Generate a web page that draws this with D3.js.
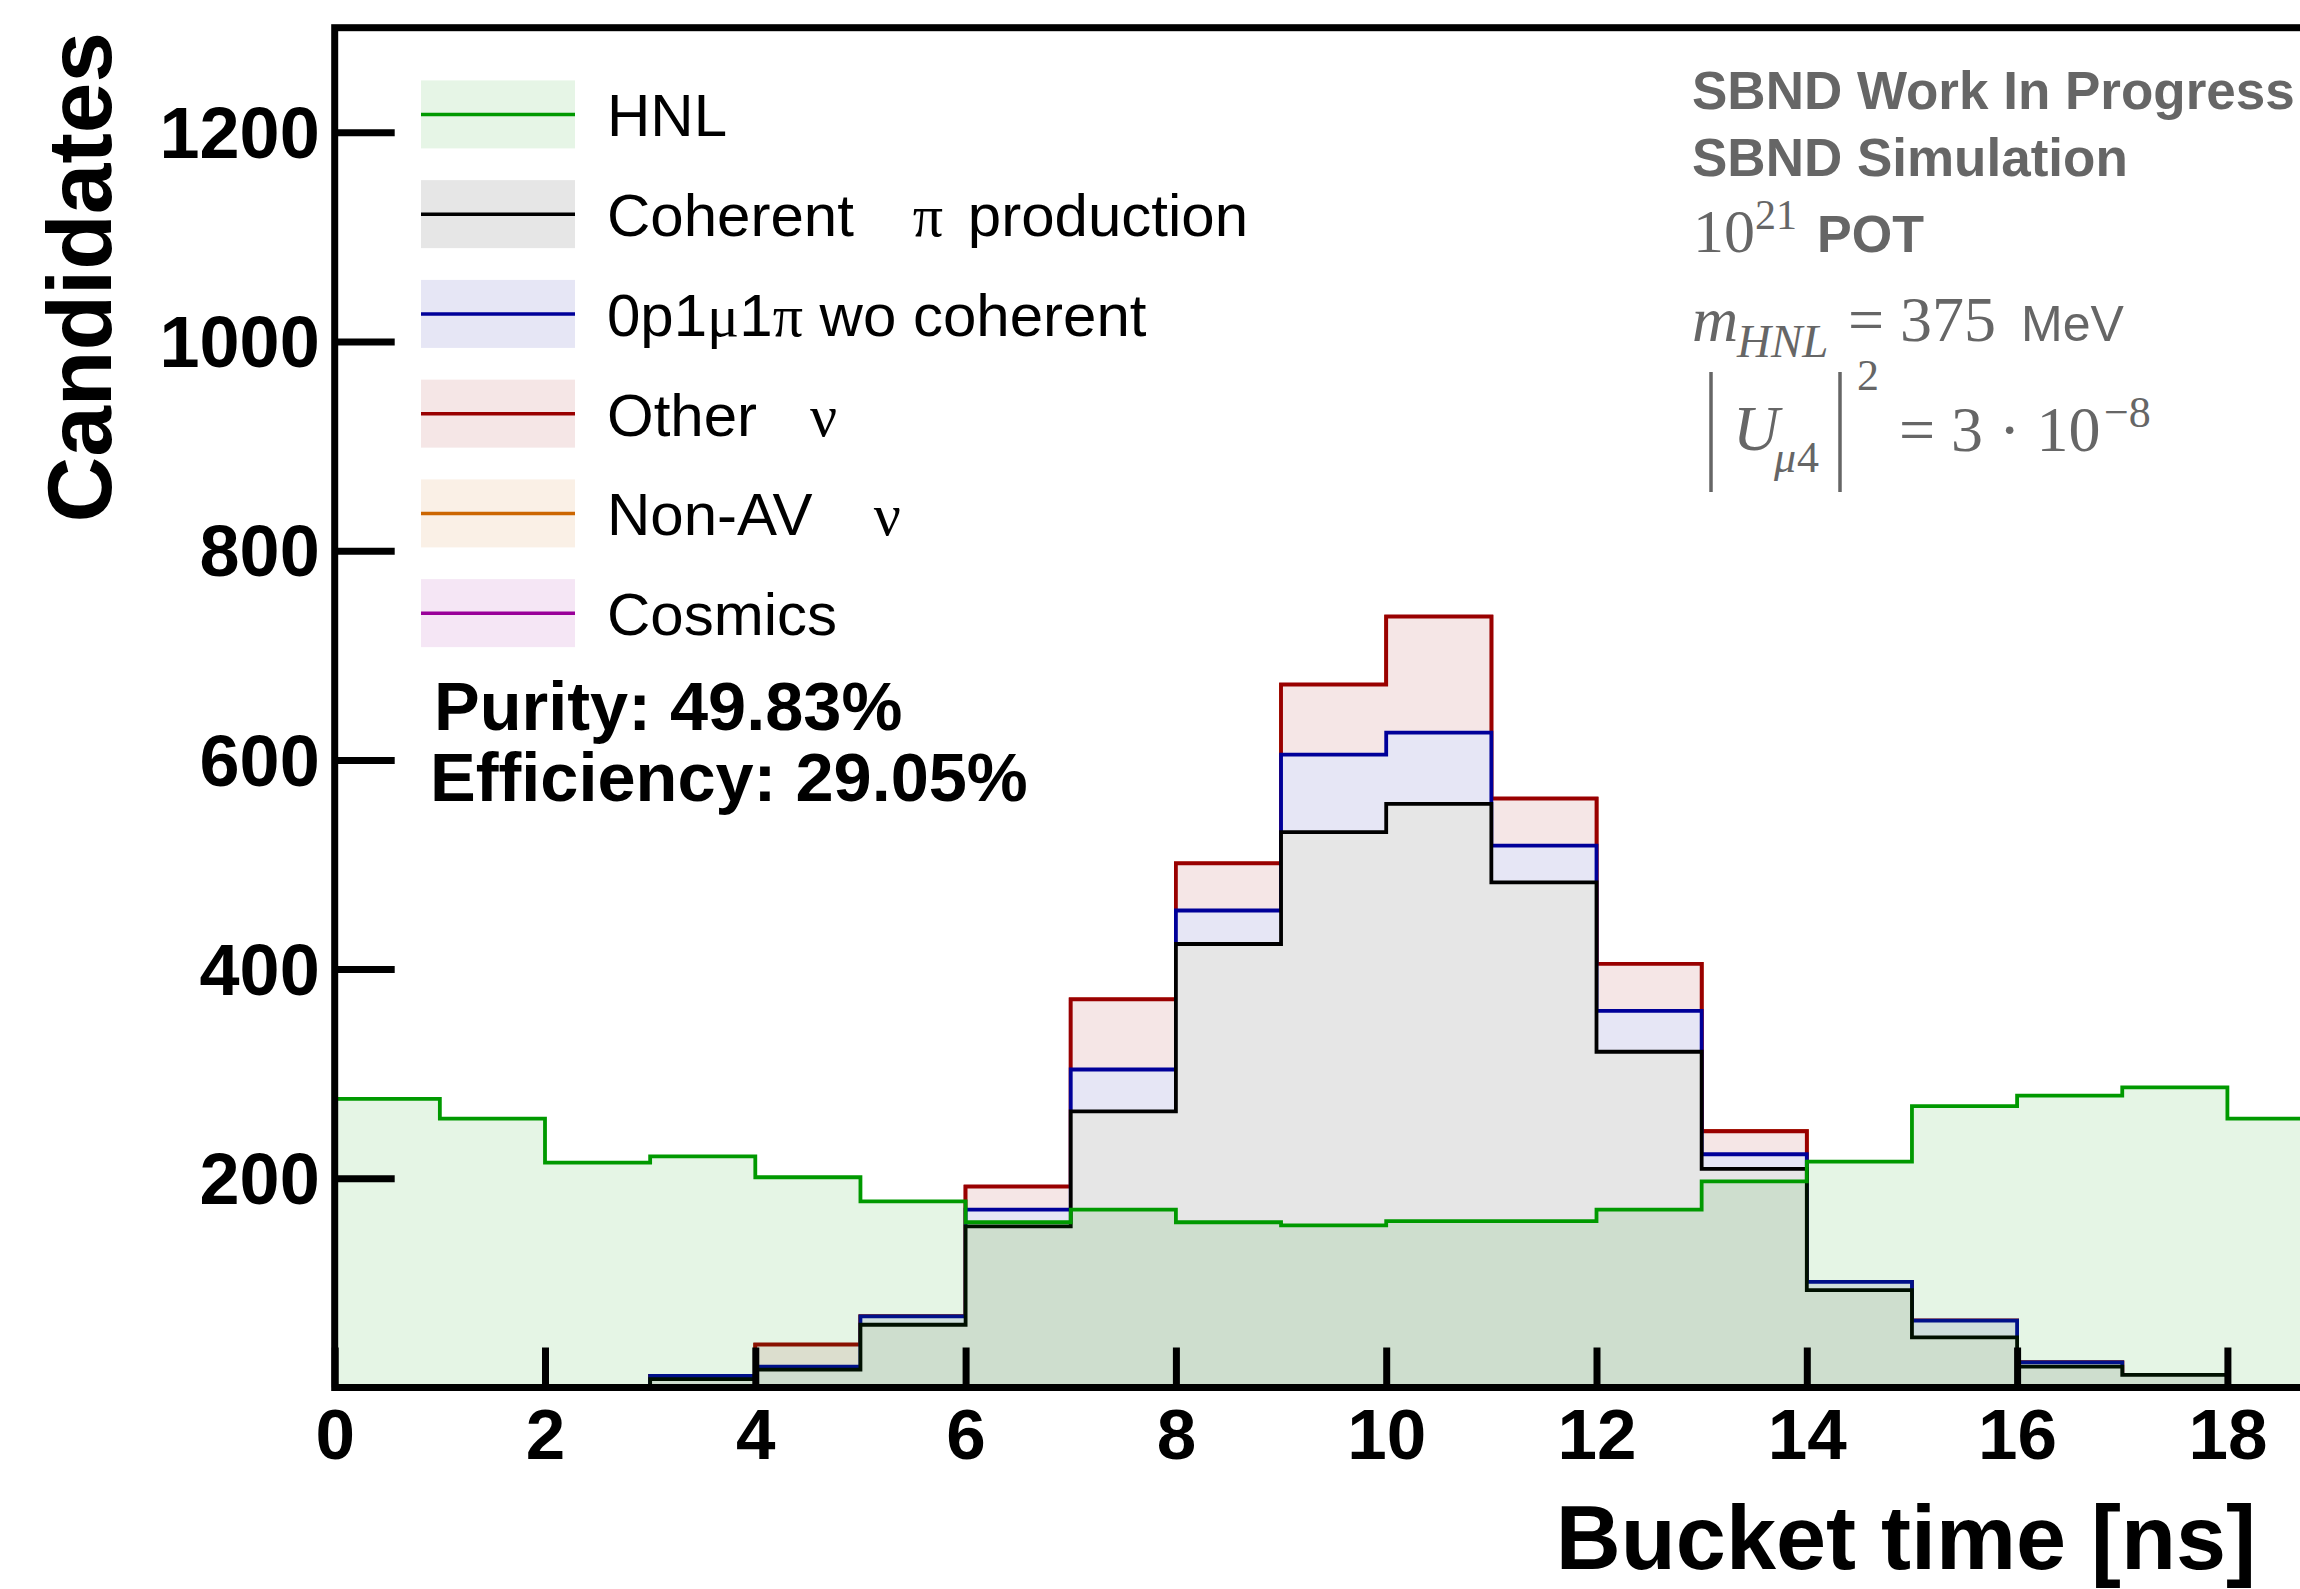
<!DOCTYPE html>
<html>
<head>
<meta charset="utf-8">
<script src="https://cdn.jsdelivr.net/npm/d3@7"></script>
<style>
  body { margin: 0; background: #fff; }
  svg { display: block; }
  text { white-space: pre; }
</style>
</head>
<body>
<svg id="chart" width="2300" height="1589"></svg>
<script>
// Bucket-time histogram: 1 ns bins starting at 0 ns
const binEdges = d3.range(0, 20);            // 0 … 19 ns (19 bins)

// Background contributions per bin (stacked)
const coherentPi  = [0, 0, 0, 8, 17, 60, 154, 264, 424, 531, 558, 483, 321, 209, 93, 48, 20, 12, 0];
const zeroP1mu1pi = [0, 0, 0, 3, 3, 8, 16, 40, 32, 74, 68, 35, 39, 14, 8, 16, 4, 0, 0];
const otherNu     = [0, 0, 0, 0, 21, 0, 22, 67, 45, 67, 111, 45, 45, 22, 0, 0, 0, 0, 0];
const nonAVNu     = [0, 0, 0, 0, 0, 0, 0, 0, 0, 0, 0, 0, 0, 0, 0, 0, 0, 0, 0];
const cosmics     = [0, 0, 0, 0, 0, 0, 0, 0, 0, 0, 0, 0, 0, 0, 0, 0, 0, 0, 0];

// Signal, drawn on its own (not stacked)
const hnl = [276, 257, 215, 221, 201, 178, 158, 170, 158, 155, 159, 159, 170, 197, 216, 269, 279, 287, 257];

const xTicks = [0, 2, 4, 6, 8, 10, 12, 14, 16, 18];
const yTicks = [200, 400, 600, 800, 1000, 1200];

// legend label pieces: [text, font, extra horizontal offset]
const legendLabels = [
  [["HNL", "sans", 0]],
  [["Coherent   ", "sans", 0], ["π", "serif", 9], [" production", "sans", 8]],
  [["0p1", "sans", 0], ["μ", "serif", 0], ["1", "sans", 0], ["π", "serif", 0], [" wo coherent", "sans", 0]],
  [["Other   ", "sans", 0], ["ν", "serif", 3]],
  [["Non-AV   ", "sans", 0], ["ν", "serif", 11]],
  [["Cosmics", "sans", 0]]
];
const purityText = "Purity: 49.83%";
const efficiencyText = "Efficiency: 29.05%";

// ---------------------------------------------------------------------------
const SANS = "'Liberation Sans', Arial, Helvetica, sans-serif";
const SERIF = "'Liberation Serif', 'Times New Roman', serif";

const svg = d3.select("#chart");
svg.append("rect").attr("width", 2300).attr("height", 1589).attr("fill", "#fff");

const x = d3.scaleLinear().domain([0, 20]).range([334.7, 334.7 + 20 * 105.15]);
const y = d3.scaleLinear().domain([0, 1300]).range([1387.5, 27.7]);

// blend a colour with white at the given opacity -> opaque colour
function tint(color, a) {
  const c = d3.rgb(color);
  return d3.rgb(255 + (c.r - 255) * a, 255 + (c.g - 255) * a, 255 + (c.b - 255) * a).formatHex();
}

const series = [
  { key: "coherent", vals: coherentPi,  color: "#000000" },
  { key: "zeroP",    vals: zeroP1mu1pi, color: "#000099" },
  { key: "other",    vals: otherNu,     color: "#990000" },
  { key: "nonAV",    vals: nonAVNu,     color: "#cc6600" },
  { key: "cosmics",  vals: cosmics,     color: "#990099" }
];
const hnlColor = "#009900";

const rows = binEdges.slice(0, -1).map((e, i) => {
  const r = { lo: e, hi: binEdges[i + 1] };
  series.forEach(s => r[s.key] = s.vals[i]);
  return r;
});
const stacked = d3.stack().keys(series.map(s => s.key))(rows);

function stepPoints(tops) {
  const pts = [[x(rows[0].lo), y(0)]];
  rows.forEach((r, i) => {
    pts.push([x(r.lo), y(tops[i])], [x(r.hi), y(tops[i])]);
  });
  pts.push([x(rows[rows.length - 1].hi), y(0)]);
  return pts;
}
const line = d3.line();
const area = d3.area().x(d => d[0]).y0(y(0)).y1(d => d[1]);

const plot = svg.append("g");

// stacked backgrounds: outermost cumulative first
for (let k = stacked.length - 1; k >= 0; k--) {
  const pts = stepPoints(stacked[k].map(d => d[1]));
  plot.append("path").attr("d", area(pts)).attr("fill", tint(series[k].color, 0.1));
  plot.append("path").attr("d", line(pts)).attr("fill", "none")
    .attr("stroke", series[k].color).attr("stroke-width", 3.8).attr("stroke-linejoin", "miter");
}

// HNL signal
const hnlPts = stepPoints(hnl);
plot.append("path").attr("d", area(hnlPts)).attr("fill", hnlColor).attr("fill-opacity", 0.1);
plot.append("path").attr("d", line(hnlPts)).attr("fill", "none")
  .attr("stroke", hnlColor).attr("stroke-width", 3.8);

// ---------------------------------------------------------------------------
// axes
const yAxis = d3.axisLeft(y).tickValues(yTicks).tickSize(-60).tickPadding(15)
  .tickFormat(d3.format("d"));
const gy = svg.append("g").attr("transform", `translate(${x(0)},0)`).call(yAxis);
gy.select(".domain").remove();
gy.selectAll(".tick line").attr("stroke", "#000").attr("stroke-width", 7);
gy.selectAll(".tick text").attr("font-family", SANS).attr("font-weight", "bold")
  .attr("font-size", 72).attr("fill", "#000").attr("dy", "0.35em");

const xAxis = d3.axisBottom(x).tickValues(xTicks).tickSize(-40).tickPadding(21)
  .tickFormat(d3.format("d"));
const gx = svg.append("g").attr("transform", `translate(0,${y(0)})`).call(xAxis);
gx.select(".domain").remove();
gx.selectAll(".tick line").attr("stroke", "#000").attr("stroke-width", 7);
gx.selectAll(".tick text").attr("font-family", SANS).attr("font-weight", "bold")
  .attr("font-size", 71).attr("fill", "#000");

// frame
svg.append("rect")
  .attr("x", x(0)).attr("y", y(1300))
  .attr("width", x(20) - x(0)).attr("height", y(0) - y(1300))
  .attr("fill", "none").attr("stroke", "#000").attr("stroke-width", 7);

// axis titles
svg.append("text")
  .attr("x", 2256).attr("y", 1569).attr("text-anchor", "end")
  .attr("font-family", SANS).attr("font-weight", "bold").attr("font-size", 90)
  .text("Bucket time [ns]");
svg.append("text")
  .attr("transform", "translate(111,32) rotate(-90)").attr("text-anchor", "end")
  .attr("font-family", SANS).attr("font-weight", "bold").attr("font-size", 91)
  .text("Candidates");

// ---------------------------------------------------------------------------
// legend
const legend = svg.append("g");
const legendColors = [hnlColor, ...series.map(s => s.color)];
legendLabels.forEach((parts, i) => {
  const cy = 114.4 + i * 99.75;
  const g = legend.append("g");
  g.append("rect").attr("x", 421).attr("y", cy - 34).attr("width", 154).attr("height", 68)
    .attr("fill", tint(legendColors[i], 0.1));
  g.append("line").attr("x1", 421).attr("x2", 575).attr("y1", cy).attr("y2", cy)
    .attr("stroke", legendColors[i]).attr("stroke-width", 3.5);
  const t = g.append("text").attr("x", 607).attr("y", cy + 22)
    .attr("font-size", 60).attr("fill", "#000");
  parts.forEach(([s, f, dx]) => {
    t.append("tspan").attr("font-family", f === "serif" ? SERIF : SANS)
      .attr("dx", dx).text(s);
  });
});

svg.append("text").attr("x", 434).attr("y", 730)
  .attr("font-family", SANS).attr("font-weight", "bold").attr("font-size", 68.5)
  .text(purityText);
svg.append("text").attr("x", 430).attr("y", 801)
  .attr("font-family", SANS).attr("font-weight", "bold").attr("font-size", 68.5)
  .text(efficiencyText);

// ---------------------------------------------------------------------------
// experiment label and model parameters
const grey = "#666666";
const info = svg.append("g").attr("fill", grey);
info.append("text").attr("x", 1692).attr("y", 109)
  .attr("font-family", SANS).attr("font-weight", "bold").attr("font-size", 53)
  .text("SBND Work In Progress");
info.append("text").attr("x", 1692).attr("y", 176)
  .attr("font-family", SANS).attr("font-weight", "bold").attr("font-size", 53)
  .text("SBND Simulation");

// 10^21 POT
const pot = info.append("text").attr("x", 1693).attr("y", 252);
pot.append("tspan").attr("font-family", SERIF).attr("font-size", 62).text("10");
pot.append("tspan").attr("x", 1755).attr("y", 229).attr("font-family", SERIF).attr("font-size", 42).text("21");
pot.append("tspan").attr("x", 1817).attr("y", 252).attr("font-family", SANS)
  .attr("font-weight", "bold").attr("font-size", 52).text("POT");

// m_HNL = 375 MeV
const mass = info.append("text").attr("x", 1692).attr("y", 341);
mass.append("tspan").attr("font-family", SERIF).attr("font-style", "italic").attr("font-size", 64).text("m");
mass.append("tspan").attr("x", 1737).attr("y", 357).attr("font-family", SERIF)
  .attr("font-style", "italic").attr("font-size", 47).text("HNL");
mass.append("tspan").attr("x", 1848).attr("y", 341).attr("font-family", SERIF)
  .attr("font-size", 64).text("= 375");
mass.append("tspan").attr("x", 2021).attr("y", 341).attr("font-family", SANS)
  .attr("font-size", 50).text("MeV");

// |U_mu4|^2 = 3·10^-8
info.append("line").attr("x1", 1711).attr("x2", 1711).attr("y1", 372).attr("y2", 492)
  .attr("stroke", grey).attr("stroke-width", 3.5);
info.append("line").attr("x1", 1840).attr("x2", 1840).attr("y1", 372).attr("y2", 492)
  .attr("stroke", grey).attr("stroke-width", 3.5);
const mix = info.append("text").attr("x", 1733).attr("y", 450).attr("font-family", SERIF);
mix.append("tspan").attr("font-style", "italic").attr("font-size", 64).text("U");
mix.append("tspan").attr("x", 1774).attr("y", 472).attr("font-style", "italic").attr("font-size", 44).text("μ");
mix.append("tspan").attr("x", 1797).attr("y", 472).attr("font-size", 44).text("4");
mix.append("tspan").attr("x", 1857).attr("y", 390).attr("font-size", 44).text("2");
mix.append("tspan").attr("x", 1899).attr("y", 451).attr("font-size", 64).text("= 3 · 10");
mix.append("tspan").attr("x", 2104).attr("y", 427).attr("font-size", 44).text("−8");
</script>
</body>
</html>
